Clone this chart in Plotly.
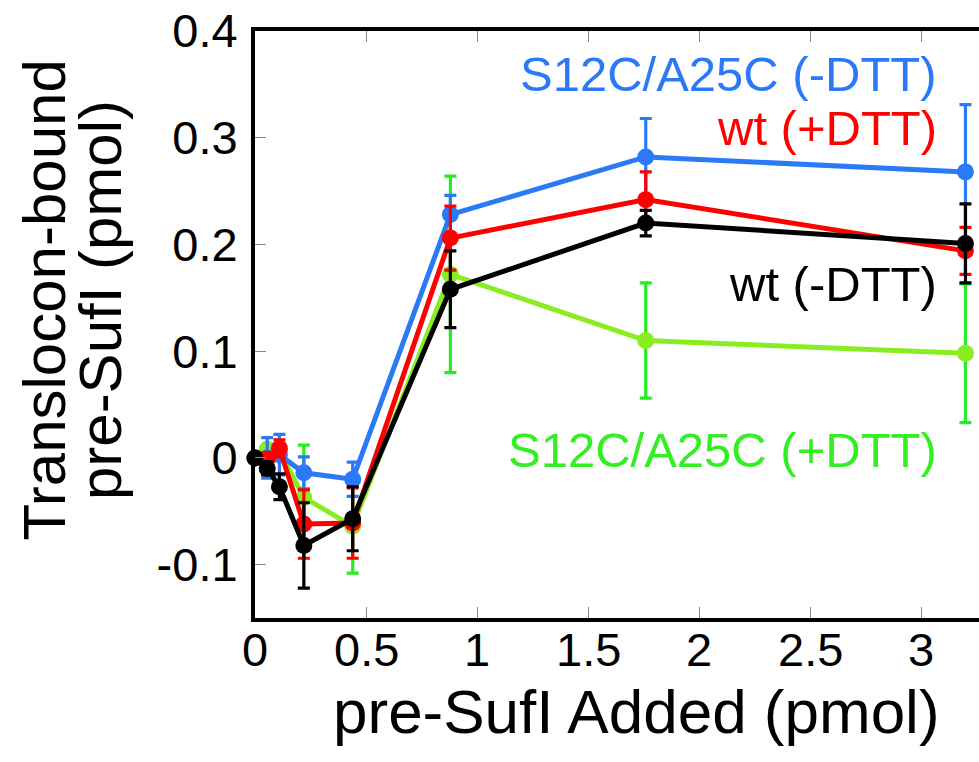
import plotly.graph_objects as go

# pre-SufI added (pmol)
added = [0, 0.055, 0.11, 0.22, 0.44, 0.88, 1.76, 3.2]

# translocon-bound pre-SufI (pmol) and error bars for each construct/condition
s12c_minus_dtt = [0, 0.000, 0.003, -0.014, -0.020, 0.228, 0.282, 0.268]
s12c_minus_dtt_err = [0, 0.019, 0.019, 0.015, 0.016, 0.018, 0.036, 0.063]

wt_plus_dtt = [0, -0.001, 0.009, -0.062, -0.061, 0.206, 0.242, 0.194]
wt_plus_dtt_err = [0, 0.006, 0.008, 0.032, 0.033, 0.030, 0.026, 0.022]

wt_minus_dtt = [0, -0.010, -0.027, -0.082, -0.057, 0.158, 0.220, 0.201]
wt_minus_dtt_err = [0, 0.006, 0.012, 0.040, 0.030, 0.036, 0.012, 0.037]

s12c_plus_dtt = [0, 0.008, 0.006, -0.037, -0.064, 0.172, 0.110, 0.098]
s12c_plus_dtt_err = [0, 0.004, 0.006, 0.049, 0.044, 0.092, 0.054, 0.065]

x_ticks = [0, 0.5, 1, 1.5, 2, 2.5, 3]
x_tick_text = ["0", "0.5", "1", "1.5", "2", "2.5", "3"]
y_ticks = [-0.1, 0, 0.1, 0.2, 0.3, 0.4]
y_tick_text = ["-0.1", "0", "0.1", "0.2", "0.3", "0.4"]

FONT = "Liberation Sans, Arial, Helvetica, sans-serif"
BLUE = "#2a7af8"
RED = "#ff0000"
BLACK = "#000000"
GREEN_LINE = "#88ee22"
GREEN_BAR = "#22ee22"
GREEN_TEXT = "#33ee22"

# drawing order: green at the back, black on top
series = [
    (s12c_plus_dtt, s12c_plus_dtt_err, GREEN_LINE, GREEN_BAR),
    (s12c_minus_dtt, s12c_minus_dtt_err, BLUE, BLUE),
    (wt_plus_dtt, wt_plus_dtt_err, RED, RED),
    (wt_minus_dtt, wt_minus_dtt_err, BLACK, BLACK),
]

fig = go.Figure()
for yv, ev, lc, bc in series:
    fig.add_trace(go.Scatter(
        x=added, y=yv, mode="lines+markers",
        line=dict(color=lc, width=5),
        marker=dict(color=lc, size=17),
        error_y=dict(type="data", array=ev, visible=True,
                     color=bc, thickness=3.2, width=6),
        showlegend=False, cliponaxis=False,
    ))

labels = [
    ("S12C/A25C (-DTT)", BLUE, 0.360),
    ("wt (+DTT)", RED, 0.309),
    ("wt (-DTT)", BLACK, 0.163),
    ("S12C/A25C (+DTT)", GREEN_TEXT, 0.007),
]
for text, col, yy in labels:
    fig.add_annotation(x=3.08, y=yy, xref="x", yref="y", text=text,
                       showarrow=False, xanchor="right", yanchor="middle",
                       font=dict(family=FONT, size=49, color=col))

# x tick labels, set a little closer to the axis than the default placement
for v, t in zip(x_ticks, x_tick_text):
    fig.add_annotation(x=v, y=-0.053, xref="x", yref="paper", text=t,
                       showarrow=False, xanchor="center", yanchor="middle",
                       font=dict(family=FONT, size=47, color="black"))

# axis titles
fig.add_annotation(x=-0.292, y=0.5417, xref="paper", yref="paper",
                   text="Translocon-bound", textangle=-90, showarrow=False,
                   xanchor="center", yanchor="middle",
                   font=dict(family=FONT, size=60, color="black"))
fig.add_annotation(x=-0.214, y=0.5417, xref="paper", yref="paper",
                   text="pre-SufI (pmol)", textangle=-90, showarrow=False,
                   xanchor="center", yanchor="middle",
                   font=dict(family=FONT, size=60, color="black"))
fig.add_annotation(x=0.5276, y=-0.160, xref="paper", yref="paper",
                   text="pre-SufI Added (pmol)", showarrow=False,
                   xanchor="center", yanchor="middle",
                   font=dict(family=FONT, size=62, color="black"))

fig.update_layout(
    width=979, height=762,
    margin=dict(l=255, r=0, t=31, b=144),
    paper_bgcolor="white", plot_bgcolor="white",
    font=dict(family=FONT, size=47, color="black"),
    xaxis=dict(range=[0, 3.261], tickvals=x_ticks, showticklabels=False,
               showgrid=False, zeroline=False,
               showline=True, linecolor="black", linewidth=4, mirror="ticks",
               ticks="inside", ticklen=11, tickwidth=1, tickcolor="#888888"),
    yaxis=dict(range=[-0.15, 0.4], tickvals=y_ticks, ticktext=y_tick_text,
               showgrid=False, zeroline=False,
               showline=True, linecolor="black", linewidth=4, mirror=False,
               ticks="inside", ticklen=11, tickwidth=1, tickcolor="#888888",
               ticklabelstandoff=4,
               tickfont=dict(family=FONT, size=47)),
    yaxis2=dict(range=[-0.15, 0.4], overlaying="y", side="right",
                tickvals=y_ticks, showticklabels=False, showgrid=False,
                zeroline=False, showline=False,
                ticks="inside", ticklen=4, tickwidth=1, tickcolor="#888888"),
)

fig.write_html("out.html")
